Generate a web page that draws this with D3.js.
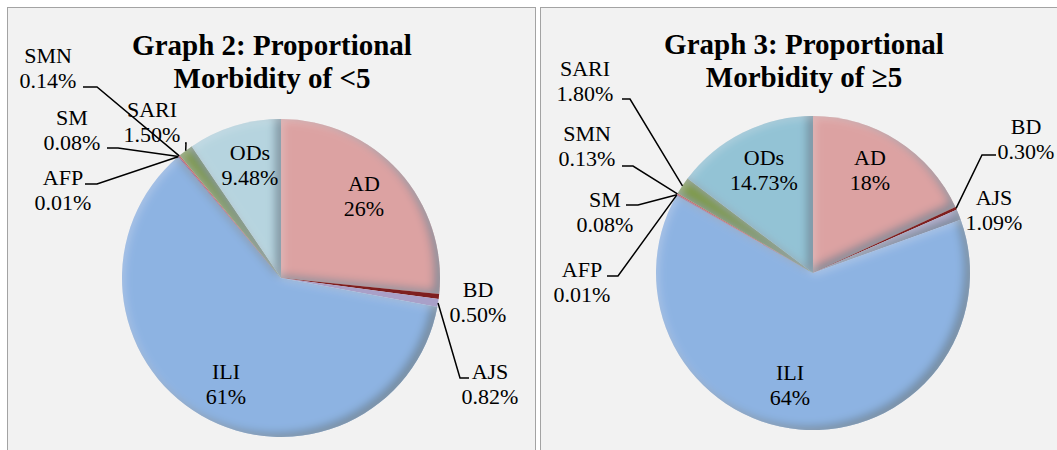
<!DOCTYPE html>
<html>
<head>
<meta charset="utf-8">
<script src="https://cdn.jsdelivr.net/npm/d3@7"></script>
<style>
  body { margin: 0; background: #fff; }
  svg { display: block; font-family: "Liberation Serif", "Times New Roman", serif; }
</style>
</head>
<body>
<div id="chart"></div>
<script>
// categories, clockwise from 12 o'clock
const categories = ["AD", "BD", "AJS", "ILI", "AFP", "SM", "SMN", "SARI", "ODs"];

// Graph 2: under five
const under5Values = [26.6, 0.50, 0.82, 60.87, 0.01, 0.08, 0.14, 1.50, 9.48];
const under5Labels = ["26%", "0.50%", "0.82%", "61%", "0.01%", "0.08%", "0.14%", "1.50%", "9.48%"];

// Graph 3: five and over
const over5Values = [18.1, 0.30, 1.09, 63.8, 0.01, 0.08, 0.13, 1.80, 14.73];
const over5Labels = ["18%", "0.30%", "1.09%", "64%", "0.01%", "0.08%", "0.13%", "1.80%", "14.73%"];

const under5Colors = ["#dca2a2", "#7e1f1f", "#a9a0c8", "#8db3e2", "#c0504d", "#8064a2", "#c4716e", "#7f9a47", "#b6d4df"];
const over5Colors  = ["#dca2a2", "#7e1f1f", "#a9a0c8", "#8db3e2", "#c0504d", "#8064a2", "#c4716e", "#7f9a47", "#93c3d5"];

const width = 1057;
const height = 450;

const svg = d3.select("#chart")
    .append("svg")
    .attr("width", width)
    .attr("height", height);

// 3D bevel look: dark inner shadow on lower/right edges, light on upper/left
// (region is in the pie group's own coords, centred on 0,0)
const defs = svg.append("defs");
const bevel = defs.append("filter")
    .attr("id", "bevel")
    .attr("filterUnits", "userSpaceOnUse")
    .attr("x", -250).attr("y", -250)
    .attr("width", 500).attr("height", 500);
bevel.append("feComponentTransfer").attr("in", "SourceAlpha").attr("result", "inv")
    .append("feFuncA").attr("type", "table").attr("tableValues", "1 0");
bevel.append("feGaussianBlur").attr("in", "inv").attr("stdDeviation", 4.5).attr("result", "blur");
bevel.append("feOffset").attr("in", "blur").attr("dx", -6).attr("dy", -4).attr("result", "offDark");
bevel.append("feComposite").attr("in", "offDark").attr("in2", "SourceAlpha").attr("operator", "in").attr("result", "darkRaw");
bevel.append("feColorMatrix").attr("in", "darkRaw").attr("type", "matrix")
    .attr("values", "0 0 0 0 0.15  0 0 0 0 0.22  0 0 0 0 0.28  0 0 0 0.85 0").attr("result", "dark");
bevel.append("feOffset").attr("in", "blur").attr("dx", 2).attr("dy", 2).attr("result", "offLight");
bevel.append("feComposite").attr("in", "offLight").attr("in2", "SourceAlpha").attr("operator", "in").attr("result", "lightRaw");
bevel.append("feColorMatrix").attr("in", "lightRaw").attr("type", "matrix")
    .attr("values", "0 0 0 0 1  0 0 0 0 1  0 0 0 0 1  0 0 0 0.2 0").attr("result", "light");
const merge = bevel.append("feMerge");
merge.append("feMergeNode").attr("in", "SourceGraphic");
merge.append("feMergeNode").attr("in", "dark");
merge.append("feMergeNode").attr("in", "light");

// panels
svg.append("rect")
    .attr("x", 7.5).attr("y", 7.5)
    .attr("width", 528).attr("height", 470)
    .attr("fill", "#f2f2f2").attr("stroke", "#a3a3a3");
svg.append("rect")
    .attr("x", 540.5).attr("y", 7.5)
    .attr("width", 540).attr("height", 470)
    .attr("fill", "#f2f2f2").attr("stroke", "#a3a3a3");

// label layout: [x, first baseline], optional leader [anchor, elbow]
const under5Layout = {
    cx: 281, cy: 278, r: 159,
    title: ["Graph 2: Proportional", "Morbidity of <5"], titleX: 272, titleY: 55,
    labels: {
        AD:   { x: 364, y: 191 },
        BD:   { x: 478, y: 297 },
        AJS:  { x: 490, y: 379, leader: [[469, 378], [460, 378]] },
        ILI:  { x: 226, y: 379 },
        AFP:  { x: 63,  y: 185, leader: [[85, 184], [97, 184]] },
        SM:   { x: 72,  y: 125, leader: [[107, 148], [118, 148]] },
        SMN:  { x: 48,  y: 63,  leader: [[83, 87], [97, 87]] },
        SARI: { x: 152, y: 117, leader: [[185, 143], [186, 143]] },
        ODs:  { x: 250, y: 160 }
    }
};

const over5Layout = {
    cx: 813, cy: 273, r: 157,
    title: ["Graph 3: Proportional", "Morbidity of \u22655"], titleX: 804, titleY: 54,
    labels: {
        AD:   { x: 870, y: 165 },
        BD:   { x: 1026, y: 134, leader: [[996, 155], [982, 155]] },
        AJS:  { x: 994, y: 205 },
        ILI:  { x: 790, y: 380 },
        AFP:  { x: 582, y: 277, leader: [[607, 276], [618, 276]] },
        SM:   { x: 605, y: 207, leader: [[626, 205], [638, 205]] },
        SMN:  { x: 587, y: 141, leader: [[622, 166], [633, 166]] },
        SARI: { x: 585, y: 76,  leader: [[622, 99], [630, 99]] },
        ODs:  { x: 764, y: 165 }
    }
};

function drawPie(values, labels, colors, layout) {
    const data = categories.map((c, i) => ({ name: c, value: values[i], label: labels[i], color: colors[i] }));

    const pie = d3.pie()
        .sort(null)
        .value(d => d.value);

    const arc = d3.arc().innerRadius(0).outerRadius(layout.r);
    const rim = d3.arc().innerRadius(layout.r).outerRadius(layout.r);

    const arcs = pie(data);

    const g = svg.append("g")
        .attr("transform", `translate(${layout.cx},${layout.cy})`);

    // slivers keep their flat colour, the bevel would wash them out
    g.selectAll("path")
        .data(arcs)
        .enter().append("path")
        .attr("d", arc)
        .attr("fill", d => d.data.color)
        .attr("filter", d => d.data.value >= 1 ? "url(#bevel)" : null);

    // title
    const title = svg.append("text")
        .attr("x", layout.titleX)
        .attr("y", layout.titleY)
        .attr("text-anchor", "middle")
        .attr("font-size", 29)
        .attr("font-weight", "bold");
    layout.title.forEach((t, i) => {
        title.append("tspan")
            .attr("x", layout.titleX)
            .attr("dy", i === 0 ? 0 : 33)
            .text(t);
    });

    // leader lines
    arcs.forEach(d => {
        const pos = layout.labels[d.data.name];
        if (!pos.leader) return;
        const p = rim.centroid(d);
        const end = [layout.cx + p[0], layout.cy + p[1]];
        svg.append("path")
            .attr("d", d3.line()([pos.leader[0], pos.leader[1], end]))
            .attr("fill", "none")
            .attr("stroke", "#000")
            .attr("stroke-width", 1.5);
    });

    // labels
    arcs.forEach(d => {
        const pos = layout.labels[d.data.name];
        const t = svg.append("text")
            .attr("x", pos.x)
            .attr("y", pos.y)
            .attr("text-anchor", "middle")
            .attr("font-size", 22)
            .attr("fill", "#000");
        t.append("tspan").attr("x", pos.x).attr("dy", 0).text(d.data.name);
        t.append("tspan").attr("x", pos.x).attr("dy", 25).text(d.data.label);
    });
}

drawPie(under5Values, under5Labels, under5Colors, under5Layout);
drawPie(over5Values, over5Labels, over5Colors, over5Layout);
</script>
</body>
</html>
